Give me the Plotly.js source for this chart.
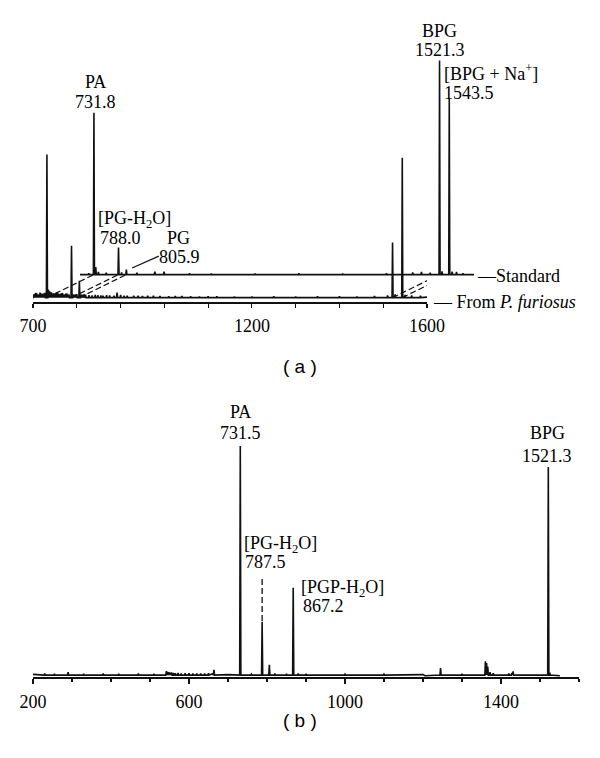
<!DOCTYPE html>
<html>
<head>
<meta charset="utf-8">
<script src="https://cdn.plot.ly/plotly-3.0.1.min.js"></script>
<style>html,body{margin:0;padding:0;background:#fff}#chart{width:600px;height:758px}</style>
</head>
<body>
<div id="chart"></div>
<script>
// ---------- DATA ----------
// Panel (a) – lower spectrum "From P. furiosus"
const aLowerPeakMz  = [731.8, 788.0, 805.9, 892, 1521.3, 1543.5];
const aLowerPeakInt = [65, 23.6, 7.7, 2.3, 25, 63.6];
const aLowerNoiseMz  = [701,703,706,708,711,713,716,718,721,723,725,727,735,738,742,745,747,749,751,754,756,759,762,765,767,770,772,775,777,780,782,792,795,798,800,810,812,816,820,828,835,842,848,855,860,868,875,885,900,908,915,930,940,950,962,975,990,1010,1025,1040,1060,1080,1100,1120,1160,1200,1250,1300,1350,1400,1440,1480,1510,1527,1550,1565,1585];
const aLowerNoiseInt = [1.4,1.6,2.2,2.0,1.5,1.4,2.3,1.9,1.7,1.5,2.0,2.2,3.6,2.8,2.4,1.8,2.0,1.6,1.8,2.2,2.4,1.7,1.6,2.0,2.1,1.5,1.4,1.8,1.9,1.3,1.5,1.4,1.3,1.5,1.6,1.3,1.2,1.5,1.4,1.1,1.0,1.2,1.1,1.0,0.9,1.1,1.0,0.9,1.2,0.9,0.8,0.9,0.8,0.7,0.8,0.8,0.7,0.6,0.7,0.7,0.6,0.5,0.6,0.6,0.5,0.5,0.6,0.5,0.6,0.6,0.5,0.7,1.0,1.5,1.2,1.0,0.8];
const aLowerBaseMz  = [697, 1600];
const aLowerBaseInt = [0.3, 0.2];

// Panel (a) – upper spectrum "Standard"
const aUpperPeakMz  = [731.8, 788.0, 805.9, 1521.3, 1543.5];
const aUpperPeakInt = [73.6, 12.3, 2.3, 97.3, 80];
const aUpperNoiseMz  = [720,736,742,760,795,830,871,892,950,1000,1100,1200,1300,1400,1460,1480,1500,1527,1550,1560,1575];
const aUpperNoiseInt = [0.6,3.4,1.2,0.8,1.0,0.8,1.4,1.4,0.6,0.5,0.5,0.6,0.5,0.6,1.0,1.2,0.9,1.5,1.4,1.2,0.6];
const aUpperBaseMz  = [700, 1600];
const aUpperBaseInt = [0, 0];
const aConnectMz = [731.8, 788.0, 805.9, 1521.3, 1543.5];

// Panel (b)
const bPeakMz  = [731.5, 787.5, 806, 867.2, 1521.3];
const bPeakInt = [95.5, 22.2, 4.3, 36.4, 86.7];
const bNoiseMz  = [230,255,290,330,380,420,470,510,542,545,548,552,555,560,565,572,580,590,600,610,620,630,640,650,664,760,820,850,880,900,1000,1100,1245,1300,1360,1363,1366,1372,1380,1420,1428,1431,1525];
const bNoiseInt = [0.6,0.5,1.2,0.5,0.6,0.5,0.6,0.5,1.6,1.3,1.2,1.0,1.1,0.9,0.8,0.9,0.7,0.8,0.8,0.7,0.6,0.7,0.7,0.8,2.2,0.4,0.6,0.5,0.6,0.5,0.4,0.4,2.9,0.3,5.8,5.0,3.5,1.2,0.8,0.6,0.9,1.5,1.0];
const bBaseMz  = [200, 540, 660, 700, 1200, 1205, 1551];
const bBaseInt = [0.3, 0.3, 0.5, 0.2, 0.2, -0.3, -0.3];

const aTickVals  = [700, 1200, 1600];
const aTickText  = ['700', '1200', '1600'];
const aMinorVals = [800, 900, 1000, 1100, 1300, 1400, 1500];
const bTickVals  = [200, 600, 1000, 1400];
const bTickText  = ['200', '600', '1000', '1400'];
const bMinorVals = [300, 400, 500, 700, 800, 900, 1100, 1200, 1300, 1500, 1600];

// ---------- BUILD ----------
const W = 600, H = 758;
const px = x => x / W, py = y => 1 - y / H;
const SERIF = 'Liberation Serif, Times New Roman, serif';
const INK = '#111';

function spectrum(baseMz, baseInt, peakMz, peakInt, noiseMz, noiseInt, hw) {
  const pts = baseMz.map((m, i) => [m, baseInt[i]]);
  const add = (mz, it) => mz.forEach((m, i) => { pts.push([m - hw, 0], [m, it[i]], [m + hw, 0]); });
  add(peakMz, peakInt);
  add(noiseMz, noiseInt);
  pts.sort((a, b) => a[0] - b[0]);
  return { x: pts.map(p => p[0]), y: pts.map(p => p[1]) };
}

const sLow = spectrum(aLowerBaseMz, aLowerBaseInt, aLowerPeakMz, aLowerPeakInt, aLowerNoiseMz, aLowerNoiseInt, 1.2);
const sUp  = spectrum(aUpperBaseMz, aUpperBaseInt, aUpperPeakMz, aUpperPeakInt, aUpperNoiseMz, aUpperNoiseInt, 1.2);
const sB   = spectrum(bBaseMz, bBaseInt, bPeakMz, bPeakInt, bNoiseMz, bNoiseInt, 1.5);

const lineStyle = { color: INK, width: 1.6 };
const traces = [
  { x: sLow.x, y: sLow.y, xaxis: 'x', yaxis: 'y', mode: 'lines', line: lineStyle, hoverinfo: 'skip', name: 'From P. furiosus' },
  { x: sUp.x, y: sUp.y, xaxis: 'x2', yaxis: 'y2', mode: 'lines', line: lineStyle, hoverinfo: 'skip', name: 'Standard' },
  { x: sB.x, y: sB.y, xaxis: 'x3', yaxis: 'y3', mode: 'lines', line: lineStyle, hoverinfo: 'skip', name: '(b)' }
];

function txt(text, x, y, anchor, font) {
  return { text, xref: 'paper', yref: 'paper', x: px(x), y: py(y), xanchor: anchor || 'center', yanchor: 'middle',
    showarrow: false, borderpad: 0, font: font || { family: SERIF, size: 18, color: '#000' } };
}
const capFont = { family: 'Liberation Sans, Arial, sans-serif', size: 19, color: '#000' };

const annotations = [
  txt('PA', 95, 82), txt('731.8', 95, 102),
  txt('[PG-H<sub>2</sub>O]', 97, 219, 'left'), txt('788.0', 99, 238, 'left'),
  txt('PG', 166, 238, 'left'), txt('805.9', 158, 257, 'left'),
  txt('BPG', 440, 31), txt('1521.3', 440, 50),
  txt('[BPG + Na<sup>+</sup>]', 443, 73, 'left'), txt('1543.5', 443, 93, 'left'),
  txt('—Standard', 476, 276, 'left'),
  txt('— From <i>P. furiosus</i>', 432, 302, 'left'),
  txt('( a )', 300, 366, 'center', capFont),
  txt('PA', 240, 412), txt('731.5', 240, 433),
  txt('[PG-H<sub>2</sub>O]', 243, 544, 'left'), txt('787.5', 244, 562, 'left'),
  txt('[PGP-H<sub>2</sub>O]', 300, 588, 'left'), txt('867.2', 302, 606, 'left'),
  txt('BPG', 547, 433), txt('1521.3', 547, 456),
  txt('( b )', 300, 720, 'center', capFont)
];

const shapes = aConnectMz.map(m => ({
  type: 'line', xref: 'x', yref: 'y', xsizemode: 'pixel', ysizemode: 'pixel',
  xanchor: m, yanchor: 0, x0: 0, x1: 47, y0: 0, y1: 23,
  line: { color: INK, width: 1.2, dash: '6px,3px' }, layer: 'below'
}));
shapes.push({ type: 'line', xref: 'x2', yref: 'y2', x0: 819, y0: 3.0, x1: 880, y1: 8.4, line: { color: INK, width: 1.2 } });
shapes.push({ type: 'line', xref: 'x3', yref: 'y3', x0: 787.5, y0: 22.5, x1: 787.5, y1: 41.3, line: { color: INK, width: 1.3, dash: '6px,3px' } });

const tickFont = { family: SERIF, size: 18, color: '#000' };
const baseX = { showline: true, linecolor: INK, linewidth: 1.5, ticks: 'outside', tickcolor: INK, tickwidth: 1.2,
  showgrid: false, zeroline: false, tickfont: tickFont, tickmode: 'array', fixedrange: true };
const hidden = { visible: false, showgrid: false, zeroline: false, fixedrange: true };

const layout = {
  width: W, height: H, margin: { l: 0, r: 0, t: 0, b: 0 }, showlegend: false,
  paper_bgcolor: '#fff', plot_bgcolor: 'rgba(0,0,0,0)',
  xaxis: Object.assign({}, baseX, { domain: [px(33), px(427)], range: [700, 1600], anchor: 'y', ticklen: 4,
    tickvals: aTickVals, ticktext: aTickText, ticklabelstandoff: 3,
    minor: { tickmode: 'array', tickvals: aMinorVals, ticks: 'outside', ticklen: 4, tickcolor: INK, tickwidth: 1.2, showgrid: false } }),
  yaxis: Object.assign({}, hidden, { domain: [py(302), py(302 - 224.4)], range: [-2, 100], anchor: 'x' }),
  xaxis2: Object.assign({}, hidden, { domain: [px(80), px(474)], range: [700, 1600], anchor: 'y2' }),
  yaxis2: Object.assign({}, hidden, { domain: [py(279), py(279 - 224.4)], range: [-2, 100], anchor: 'x2' }),
  xaxis3: Object.assign({}, baseX, { domain: [px(33), px(579)], range: [200, 1600], anchor: 'y3', ticklen: 5,
    tickvals: bTickVals, ticktext: bTickText, ticklabelstandoff: 3,
    minor: { tickmode: 'array', tickvals: bMinorVals, ticks: 'outside', ticklen: 3, tickcolor: INK, tickwidth: 1.2, showgrid: false } }),
  yaxis3: Object.assign({}, hidden, { domain: [py(677), py(677 - 241.9)], range: [-0.8, 100], anchor: 'x3' }),
  annotations, shapes
};

Plotly.newPlot('chart', traces, layout, { staticPlot: true, displayModeBar: false });
</script>
</body>
</html>
